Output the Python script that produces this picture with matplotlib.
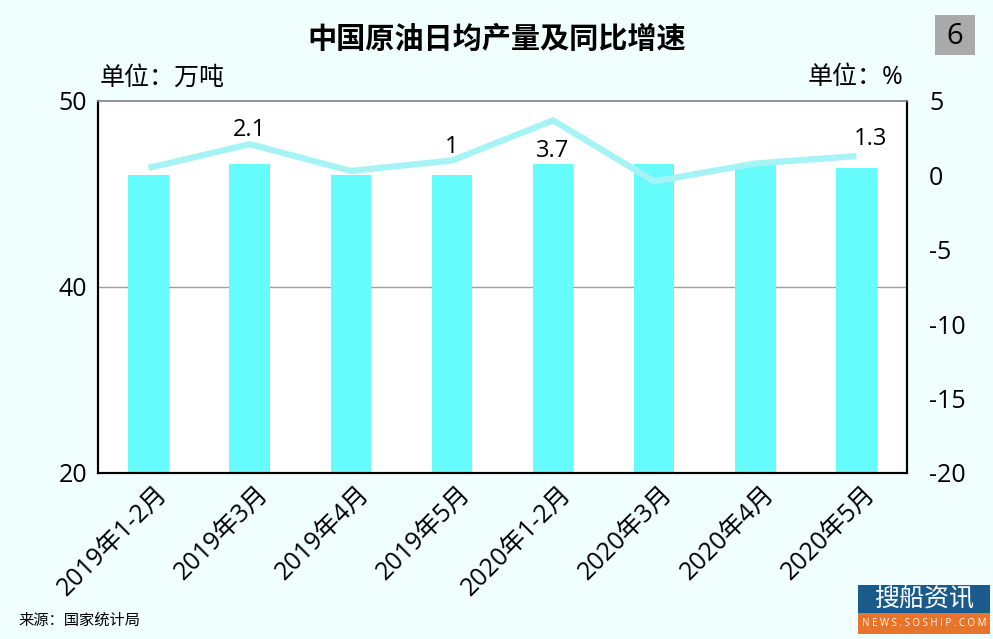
import matplotlib
matplotlib.use('Agg')
import matplotlib.pyplot as plt
import matplotlib.transforms as mtransforms
from matplotlib.patches import Rectangle

plt.rcParams['font.family'] = ['Open Sans', 'Noto Sans CJK SC', 'DejaVu Sans']

categories = ['2019年1-2月', '2019年3月', '2019年4月', '2019年5月',
              '2020年1-2月', '2020年3月', '2020年4月', '2020年5月']
output = [46.0, 46.6, 46.0, 46.0, 46.6, 46.6, 46.6, 46.4]   # 万吨/日
growth = [0.5, 2.1, 0.3, 1.0, 3.7, -0.4, 0.8, 1.3]          # %
left_ticks = [30, 40, 50]
left_ticklabels = ['20', '40', '50']
right_ticks = [-20, -15, -10, -5, 0, 5]
labelled = {1: '2.1', 3: '1', 4: '3.7', 7: '1.3'}

bg = '#f0fefe'
bar_color = '#66fcfc'
line_color = '#a6f3f6'

fig = plt.figure(figsize=(9.93, 6.39), dpi=100, facecolor=bg)
ax = fig.add_axes([98 / 993, 1 - 473 / 639, 809 / 993, 372 / 639])
ax.set_facecolor('white')

x = list(range(len(categories)))
ax.bar(x, output, width=0.4, color=bar_color, zorder=2)
ax.set_xlim(-0.5, len(categories) - 0.5)
ax.set_ylim(30, 50)
ax.set_yticks(left_ticks)
ax.set_yticklabels(left_ticklabels, fontsize=18)
ax.axhline(40, color='#a0a0a0', lw=1, zorder=1)
ax.tick_params(axis='y', length=0, pad=8)
ax.tick_params(axis='x', length=0, pad=6)
ax.set_xticks(x)
ax.set_xticklabels(categories, rotation=45, ha='right', rotation_mode='anchor', fontsize=18)
offset = mtransforms.ScaledTranslation(6 / 100, 0, fig.dpi_scale_trans)
for lbl in ax.get_xticklabels():
    lbl.set_transform(lbl.get_transform() + offset)

ax2 = ax.twinx()
ax2.plot(x, growth, color=line_color, lw=4.5, solid_capstyle='butt', zorder=3)
ax2.set_ylim(-20, 5)
ax2.set_yticks(right_ticks)
ax2.set_yticklabels([str(t) for t in right_ticks], fontsize=18)
ax2.tick_params(axis='y', length=0, pad=16)

for a in (ax, ax2):
    for s in ('left', 'bottom', 'right'):
        a.spines[s].set_color('black')
        a.spines[s].set_linewidth(1.5)
    a.spines['top'].set_color('#909090')
    a.spines['top'].set_linewidth(1.2)

offsets = {1: (0, 10), 3: (0, 10), 4: (0, -22), 7: (10, 12)}
for i, txt in labelled.items():
    dx, dy = offsets[i]
    ax2.annotate(txt, (x[i], growth[i]), xytext=(dx, dy), textcoords='offset points',
                 ha='center', va='center', fontsize=17)

fig.text(497 / 993, 1 - 40 / 639, '中国原油日均产量及同比增速', ha='center', va='center',
         fontsize=21, fontweight='bold')
fig.text(100 / 993, 1 - 78 / 639, '单位：万吨', ha='left', va='center', fontsize=18)
fig.text(903 / 993, 1 - 78 / 639, '单位：%', ha='right', va='center', fontsize=18)

fig.patches.append(Rectangle((935 / 993, 1 - 55 / 639), 40 / 993, 40 / 639,
                             transform=fig.transFigure, facecolor='#aaaaaa', edgecolor='none'))
fig.text(955 / 993, 1 - 36 / 639, '6', ha='center', va='center', fontsize=21)

fig.text(18 / 993, 1 - 621 / 639, '来源：国家统计局', ha='left', va='center', fontsize=11)

# logo
fig.patches.append(Rectangle((858 / 993, 1 - 613 / 639), 132 / 993, 28 / 639,
                             transform=fig.transFigure, facecolor='#1b5b8c', edgecolor='none'))
fig.patches.append(Rectangle((858 / 993, 1 - 634 / 639), 132 / 993, 21 / 639,
                             transform=fig.transFigure, facecolor='#e8742c', edgecolor='none'))
fig.text(924 / 993, 1 - 599 / 639, '搜船资讯', ha='center', va='center', fontsize=18, color='white')
fig.text(924 / 993, 1 - 624 / 639, 'N E W S . S O S H I P . C O M', ha='center', va='center',
         fontsize=7, color='white')

fig.savefig('out.png', dpi=100, facecolor=bg)
